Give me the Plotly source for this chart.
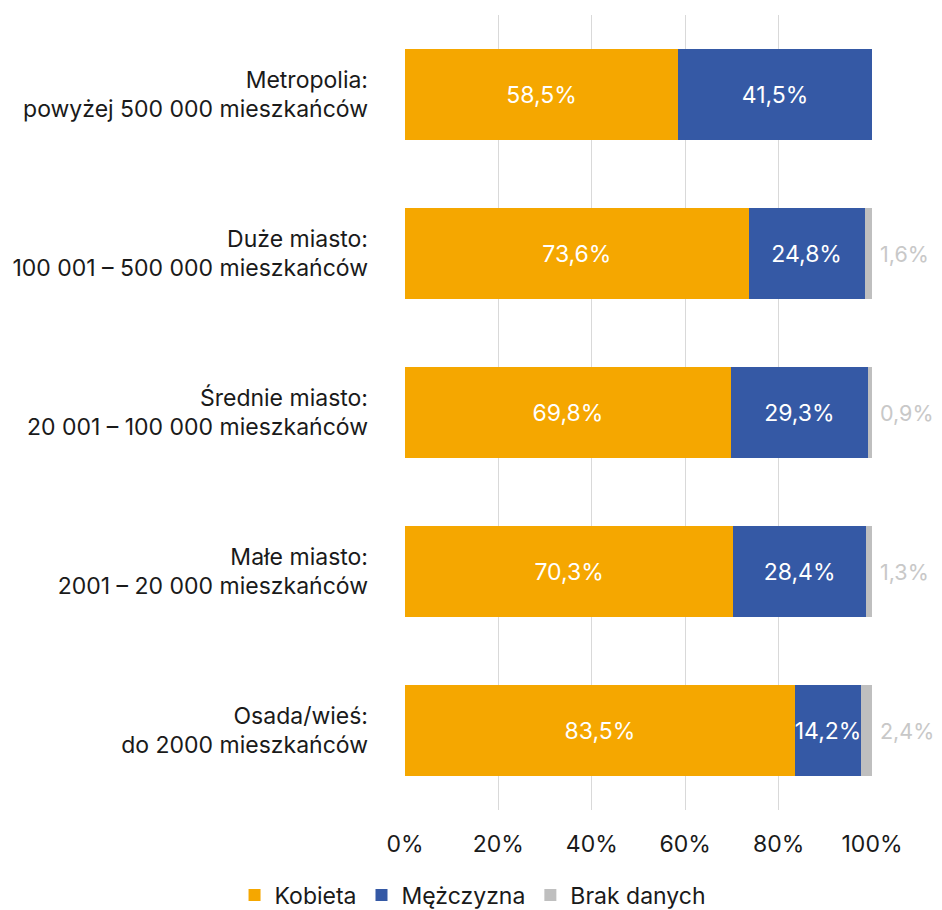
import plotly.graph_objects as go

categories = [
    "Metropolia:<br>powyżej 500 000 mieszkańców",
    "Duże miasto:<br>100 001 – 500 000 mieszkańców",
    "Średnie miasto:<br>20 001 – 100 000 mieszkańców",
    "Małe miasto:<br>2001 – 20 000 mieszkańców",
    "Osada/wieś:<br>do 2000 mieszkańców",
]
kobieta = [58.5, 73.6, 69.8, 70.3, 83.5]
mezczyzna = [41.5, 24.8, 29.3, 28.4, 14.2]
brak = [0.0, 1.6, 0.9, 1.3, 2.4]
series_names = ["Kobieta", "Mężczyzna", "Brak danych"]
x_ticks = [0, 20, 40, 60, 80, 100]

def fmt(v):
    return f"{v:.1f}".replace(".", ",") + "%"

FONT = "Inter"
FS = 23
fig = go.Figure()
fig.add_trace(go.Bar(
    y=categories, x=kobieta, orientation="h", name=series_names[0],
    marker=dict(color="#F5A700", line=dict(width=0)),
    text=[fmt(v) for v in kobieta], textposition="inside", insidetextanchor="middle",
    textangle=0, textfont=dict(color="white", size=FS, family=FONT), constraintext="none",
    hoverinfo="skip",
))
fig.add_trace(go.Bar(
    y=categories, x=mezczyzna, orientation="h", name=series_names[1],
    marker=dict(color="#3559A5", line=dict(width=0)),
    text=[fmt(v) for v in mezczyzna], textposition="inside", insidetextanchor="middle",
    textangle=0, textfont=dict(color="white", size=FS, family=FONT), constraintext="none",
    hoverinfo="skip",
))
fig.add_trace(go.Bar(
    y=categories, x=brak, orientation="h", name=series_names[2],
    marker=dict(color="#BFBFBF", line=dict(width=0)),
    hoverinfo="skip",
))
for c, v, k, m in zip(categories, brak, kobieta, mezczyzna):
    if v > 0:
        fig.add_annotation(
            x=min(100, k + m + v), y=c, xref="x", yref="y", text=fmt(v), showarrow=False,
            xanchor="left", xshift=6, font=dict(color="#C8C8C8", size=21.5, family=FONT),
        )

fig.update_layout(
    barmode="stack",
    bargap=0.43,
    width=934, height=902,
    margin=dict(l=397, r=70, t=7, b=100, autoexpand=False),
    plot_bgcolor="white", paper_bgcolor="white",
    font=dict(family=FONT, size=FS, color="#1a1a1a"),
    legend=dict(orientation="h", xref="paper", x=-0.365, xanchor="left",
                yref="paper", y=-0.107, yanchor="middle",
                font=dict(size=FS, color="#1a1a1a"), itemwidth=30, traceorder="normal"),
    showlegend=True,
)
fig.update_xaxes(range=[0, 100], tickvals=x_ticks, ticktext=[f"{t}%" for t in x_ticks],
                 showgrid=True, gridcolor="#D9D9D9", gridwidth=1.3, zeroline=False,
                 showline=False, ticks="", ticklabelstandoff=18, fixedrange=True,
                 automargin=False)
fig.update_yaxes(categoryorder="array", categoryarray=categories, autorange="reversed",
                 showgrid=False, showline=False, ticks="", ticklabelstandoff=36,
                 automargin=False)

fig.write_html("out.html")
